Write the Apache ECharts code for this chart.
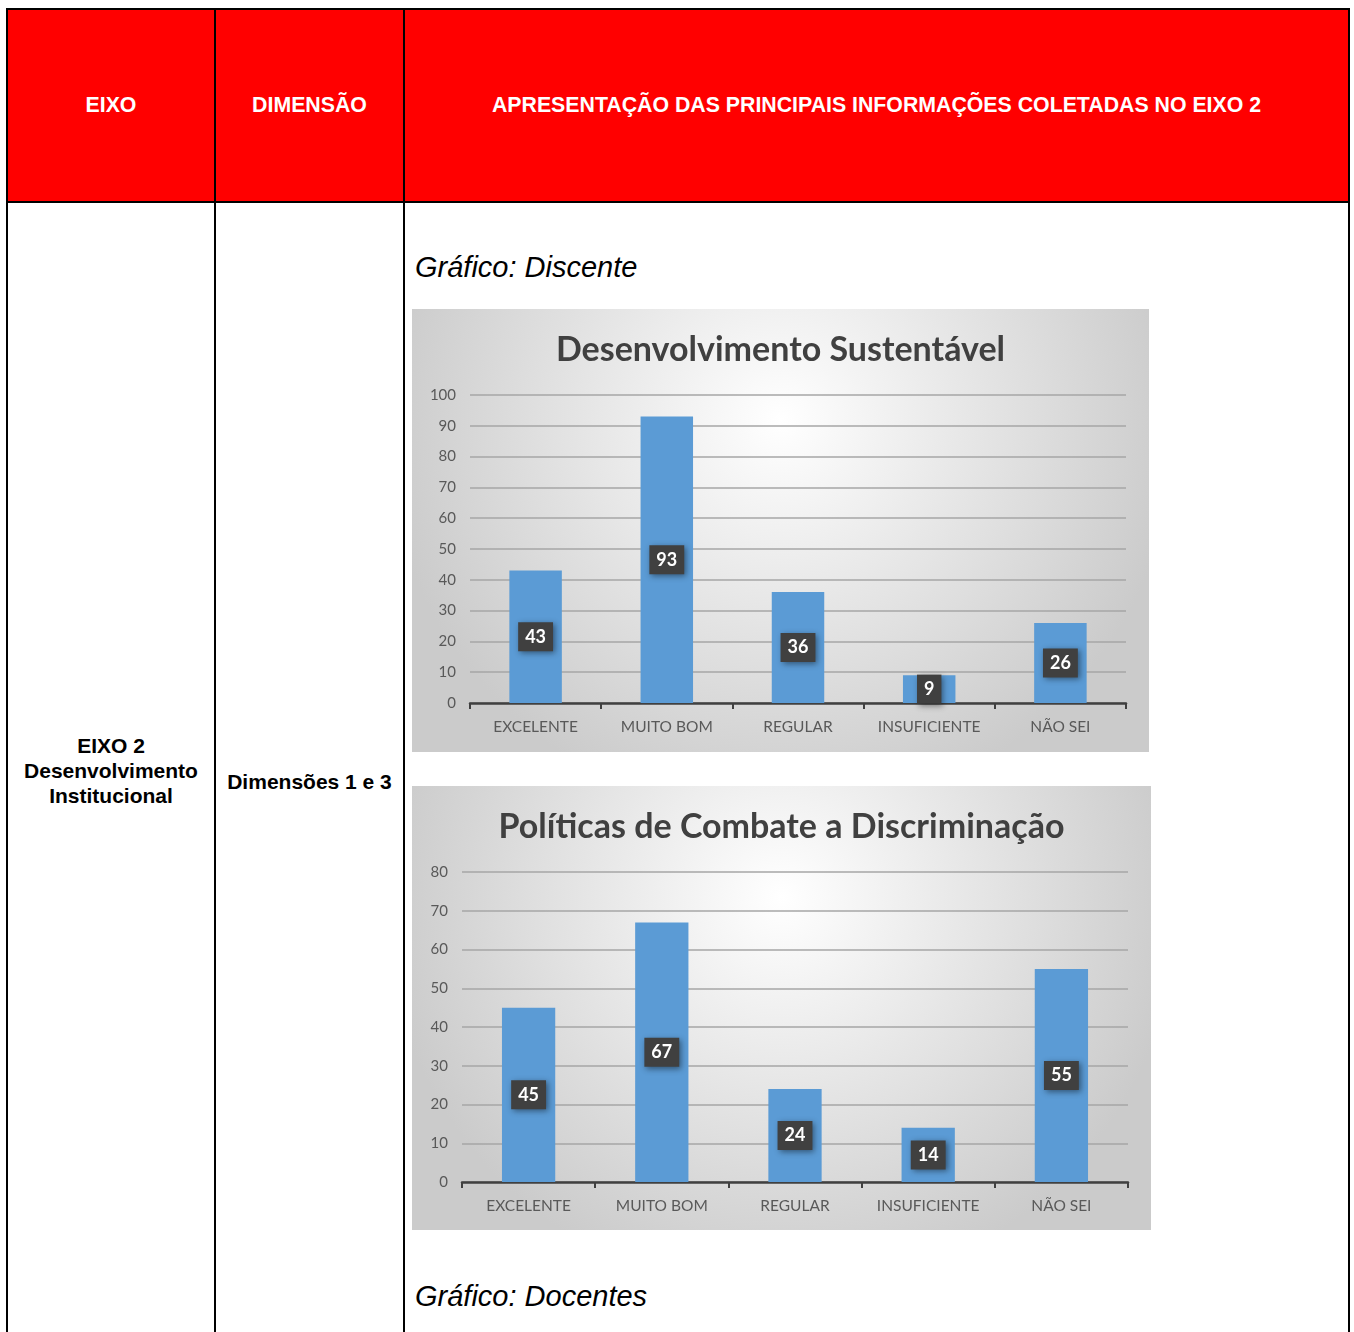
<!DOCTYPE html>
<html>
<head>
<meta charset="utf-8">
<script src="https://cdn.jsdelivr.net/npm/echarts@6/dist/echarts.min.js"></script>
<style>
  html, body { margin: 0; padding: 0; background: #fff; width: 1354px; height: 1332px; overflow: hidden; }
  .cell { position: absolute; box-sizing: border-box; border: 2px solid #000; font-family: "Liberation Sans", Arial, sans-serif; font-weight: bold; }
  .head { background: #ff0000; color: #fff; font-size: 21.3px; display: flex; align-items: center; justify-content: center; text-align: center; }
  .body { background: #fff; color: #000; font-size: 21px; display: flex; align-items: center; justify-content: center; text-align: center; line-height: 25px; }
  .cap { position: absolute; font-family: "Liberation Sans", Arial, sans-serif; font-style: italic; font-size: 29px; color: #000; }
  .chart { position: absolute; }
</style>
</head>
<body>
<div class="cell head" style="left:6px;top:8px;width:210px;height:195px;">EIXO</div>
<div class="cell head" style="left:214px;top:8px;width:191px;height:195px;">DIMENSÃO</div>
<div class="cell head" style="left:403px;top:8px;width:947px;height:195px;">APRESENTAÇÃO DAS PRINCIPAIS INFORMAÇÕES COLETADAS NO EIXO 2</div>
<div class="cell body" style="left:6px;top:201px;width:210px;height:1140px;"><div style="margin-top:-2px">EIXO 2<br>Desenvolvimento<br>Institucional</div></div>
<div class="cell body" style="left:214px;top:201px;width:191px;height:1160px;"><div>Dimensões 1 e 3</div></div>
<div class="cell" style="left:403px;top:201px;width:947px;height:1160px;"></div>
<div class="cap" style="left:415px;top:251px;">Gráfico: Discente</div>
<div class="cap" style="left:415px;top:1280px;">Gráfico: Docentes</div>
<div id="c1" class="chart" style="left:412px;top:309px;width:737px;height:443px;"></div>
<div id="c2" class="chart" style="left:412px;top:786px;width:739px;height:444px;"></div>
<script>
var categories = ['EXCELENTE', 'MUITO BOM', 'REGULAR', 'INSUFICIENTE', 'NÃO SEI'];
var discenteValues = [43, 93, 36, 9, 26];
var docenteValues = [45, 67, 24, 14, 55];
var title1 = 'Desenvolvimento Sustentável';
var title2 = 'Políticas de Combate a Discriminação';

function buildOption(title, values, yMax, grid) {
  return {
    animation: false,
    backgroundColor: {
      type: 'radial', x: 0.5, y: 0.25, r: 0.9,
      colorStops: [{offset: 0, color: '#ffffff'}, {offset: 1, color: '#cbcbcb'}]
    },
    title: {
      text: title, left: 'center', top: 19,
      textStyle: {fontFamily: 'Lato', fontWeight: 'bold', fontSize: 34, color: '#404040'}
    },
    grid: grid,
    xAxis: {
      type: 'category', data: categories,
      axisLine: {lineStyle: {color: '#404040', width: 2.5}},
      axisTick: {show: true, interval: 0, length: 6, lineStyle: {color: '#404040', width: 2}},
      axisLabel: {interval: 0, fontFamily: 'Lato', fontSize: 15.5, color: '#595959', margin: 16}
    },
    yAxis: {
      type: 'value', min: 0, max: yMax, interval: 10,
      axisLine: {show: false}, axisTick: {show: false},
      axisLabel: {fontFamily: 'Lato', fontSize: 15, color: '#595959', margin: 14},
      splitLine: {lineStyle: {color: '#a6a6a6', width: 1.5}}
    },
    series: [{
      type: 'bar', data: values, barWidth: '40%',
      itemStyle: {color: '#5b9bd5'},
      label: {
        show: true, position: 'inside',
        fontFamily: 'Lato', fontWeight: 'bold', fontSize: 18, color: '#fff',
        backgroundColor: '#404040', padding: [6, 7, 5, 7],
        shadowColor: 'rgba(0,0,0,0.45)', shadowBlur: 6, shadowOffsetX: 2, shadowOffsetY: 2
      }
    }]
  };
}

var chart1 = echarts.init(document.getElementById('c1'));
chart1.setOption(buildOption(title1, discenteValues, 100, {left: 58, right: 23, top: 86, bottom: 49}));
var chart2 = echarts.init(document.getElementById('c2'));
chart2.setOption(buildOption(title2, docenteValues, 80, {left: 50, right: 23, top: 86, bottom: 48}));
</script>
</body>
</html>
